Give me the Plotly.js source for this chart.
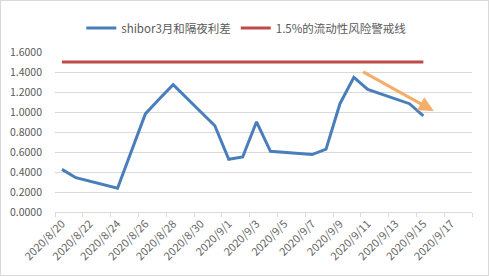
<!DOCTYPE html>
<html><head><meta charset="utf-8">
<script src="https://cdn.plot.ly/plotly-3.0.1.min.js"></script>
<style>
html,body{margin:0;padding:0;background:#fff;}
#chart{width:487px;height:274px;border:1px solid #d9d9d9;overflow:hidden;}
</style></head>
<body><div id="chart"></div>
<script>
const dates = ['2020-08-20','2020-08-21','2020-08-24','2020-08-25','2020-08-26','2020-08-27','2020-08-28',
  '2020-08-31','2020-09-01','2020-09-02','2020-09-03','2020-09-04','2020-09-07','2020-09-08',
  '2020-09-09','2020-09-10','2020-09-11','2020-09-14','2020-09-15'];
const spread = [0.426,0.343,0.238,0.610,0.981,1.130,1.273,
  0.862,0.527,0.550,0.902,0.607,0.574,0.629,
  1.083,1.346,1.226,1.083,0.962];
const warnLine = [1.5,1.5,1.5,1.5,1.5,1.5,1.5,1.5,1.5,1.5,1.5,1.5,1.5,1.5,1.5,1.5,1.5,1.5,1.5];
const seriesNames = ['shibor3月和隔夜利差','1.5%的流动性风险警戒线'];
const tickDates = ['2020-08-20','2020-08-22','2020-08-24','2020-08-26','2020-08-28','2020-08-30',
  '2020-09-01','2020-09-03','2020-09-05','2020-09-07','2020-09-09','2020-09-11','2020-09-13',
  '2020-09-15','2020-09-17'];
const tickLabels = ['2020/8/20','2020/8/22','2020/8/24','2020/8/26','2020/8/28','2020/8/30',
  '2020/9/1','2020/9/3','2020/9/5','2020/9/7','2020/9/9','2020/9/11','2020/9/13',
  '2020/9/15','2020/9/17'];
const arrowTail = ['2020-09-10 13:30', 1.41];
const arrowHead = ['2020-09-15 18:00', 1.01];

const font = {family:'"Microsoft YaHei","Noto Sans CJK SC",sans-serif', size:11, color:'#595959'};
const data = [
  {x:dates, y:spread, type:'scatter', mode:'lines', name:seriesNames[0],
   line:{color:'#4A7EBB', width:3}},
  {x:dates, y:warnLine, type:'scatter', mode:'lines', name:seriesNames[1],
   line:{color:'#BE4B48', width:3}}
];
const layout = {
  width:487, height:274,
  margin:{l:54, r:16, t:43, b:63, pad:0},
  paper_bgcolor:'#fff', plot_bgcolor:'#fff',
  font:font,
  showlegend:true,
  legend:{orientation:'h', x:0.46, xanchor:'center', y:1.15, yanchor:'middle',
    font:{family:font.family, size:11.5, color:'#595959'}, itemwidth:30, tracegroupgap:0},
  xaxis:{type:'date', range:['2020-08-19 12:00','2020-09-18 12:00'],
    tickmode:'array', tickvals:tickDates, ticktext:tickLabels, tickangle:-45,
    ticks:'', showgrid:false, zeroline:false,
    showline:true, linecolor:'#d9d9d9', linewidth:1,
    tickfont:{family:font.family, size:11, color:'#666666'},
    minor:{ticks:'outside', tick0:'2020-08-19 12:00', dtick:2*86400000, ticklen:4,
      tickcolor:'#d9d9d9', tickwidth:1, showgrid:false}},
  yaxis:{range:[0,1.6], dtick:0.2, tick0:0, tickformat:'.4f',
    showgrid:true, gridcolor:'#d9d9d9', gridwidth:1, zeroline:false,
    showline:false, ticks:'', ticklabelstandoff:12,
    tickfont:{family:font.family, size:10.5, color:'#595959'}},
  annotations:[{x:arrowHead[0], y:arrowHead[1], ax:arrowTail[0], ay:arrowTail[1],
    xref:'x', yref:'y', axref:'x', ayref:'y', text:'', showarrow:true,
    arrowhead:2, arrowsize:1, arrowwidth:3, arrowcolor:'#F2A65A', opacity:0.9}]
};
Plotly.newPlot('chart', data, layout, {displayModeBar:false, staticPlot:true});
</script></body></html>
